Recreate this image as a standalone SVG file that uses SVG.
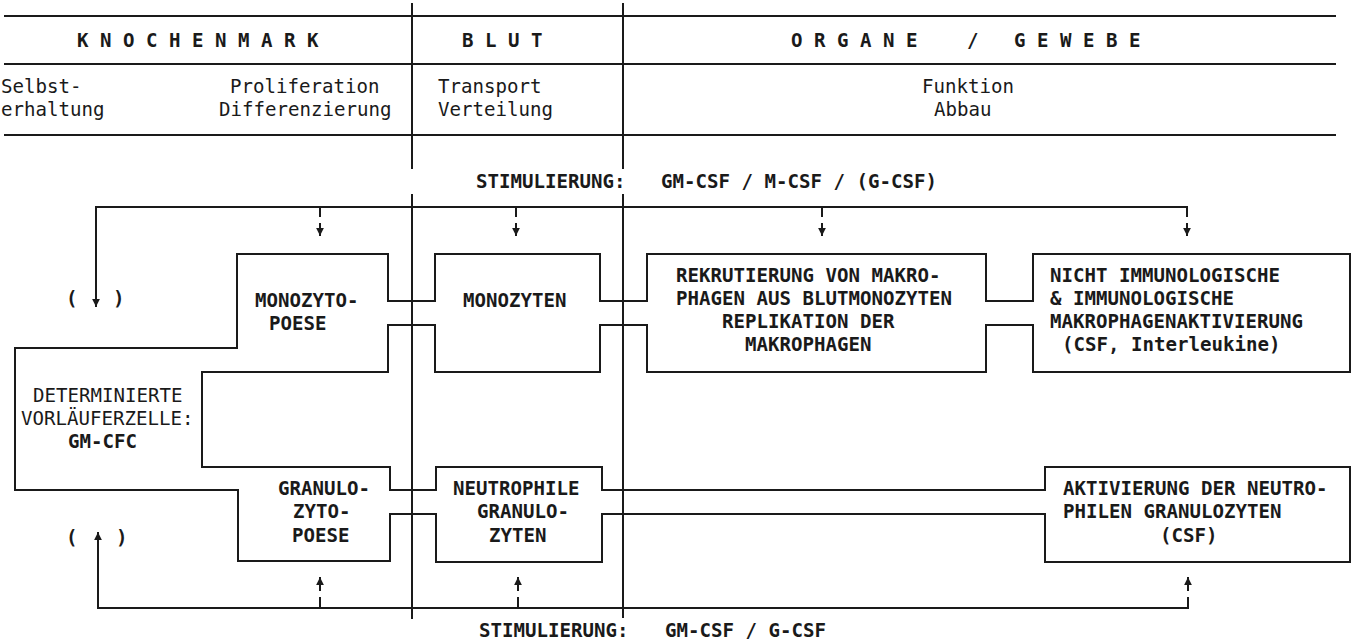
<svg xmlns="http://www.w3.org/2000/svg" width="1355" height="642" viewBox="0 0 1355 642">
<style>
  .ln { fill: none; stroke: #1a1a1a; stroke-width: 2; stroke-linecap: square; }
  .t { font-family: "DejaVu Sans Mono", "Liberation Mono", monospace; font-size: 19.1px; fill: #1a1a1a; }
  .b { font-weight: bold; }
</style>
<defs>
  <marker id="ah" viewBox="0 0 10 10" refX="9" refY="5" markerWidth="8" markerHeight="9" markerUnits="userSpaceOnUse" orient="auto">
    <path d="M0,0 L10,5 L0,10 z" fill="#1a1a1a"/>
  </marker>
</defs>
<rect width="1355" height="642" fill="#ffffff"/>

<g id="header">
  <path class="ln" d="M5,16 H1335 M5,64 H1335 M5,135 H1335"/>
  <text class="t b" x="77" y="47">K N O C H E N M A R K</text>
  <text class="t b" x="462" y="47">B L U T</text>
  <text class="t b" y="47"><tspan x="791">O R G A N E</tspan><tspan x="967">/</tspan><tspan x="1014">G E W E B E</tspan></text>
  <text class="t" x="1" y="93">Selbst-</text>
  <text class="t" x="1" y="116">erhaltung</text>
  <text class="t" x="230" y="93">Proliferation</text>
  <text class="t" x="219" y="116">Differenzierung</text>
  <text class="t" x="438" y="93">Transport</text>
  <text class="t" x="438" y="116">Verteilung</text>
  <text class="t" x="922" y="93">Funktion</text>
  <text class="t" x="934" y="116">Abbau</text>
</g>

<g id="dividers">
  <path class="ln" d="M412,4 V168 M412,195 V618 M623,4 V168 M623,195 V617"/>
</g>

<g id="stim-top">
  <text class="t b" y="188"><tspan x="476">STIMULIERUNG:</tspan><tspan x="661">GM-CSF / M-CSF / (G-CSF)</tspan></text>
  <text class="t b" y="305"><tspan x="66">(</tspan><tspan x="113">)</tspan></text>
</g>

<g id="stim-bottom">
  <text class="t b" y="637"><tspan x="479">STIMULIERUNG:</tspan><tspan x="665">GM-CSF / G-CSF</tspan></text>
  <text class="t b" y="544"><tspan x="66">(</tspan><tspan x="116">)</tspan></text>
</g>

<g id="determinierte">
  <path class="ln" d="M237,348 H15 V490 H238 M202,372 V467"/>
  <text class="t" x="33" y="402">DETERMINIERTE</text>
  <text class="t" x="21" y="425">VORLÄUFERZELLE:</text>
  <text class="t b" x="68" y="448">GM-CFC</text>
</g>

<g id="monozytopoese">
  <path class="ln" d="M237,348 V254 H388 V301 M388,325 V372 H202"/>
  <text class="t b" x="255" y="307">MONOZYTO-</text>
  <text class="t b" x="269" y="330">POESE</text>
</g>

<g id="granulozytopoese">
  <path class="ln" d="M202,467 H390 V490 M390,514 V561 H238 V490"/>
  <text class="t b" x="278" y="495">GRANULO-</text>
  <text class="t b" x="293" y="518">ZYTO-</text>
  <text class="t b" x="292" y="542">POESE</text>
</g>

<g id="monozyten">
  <path class="ln" d="M435,301 V254 H600 V301 M600,325 V372 H435 V325"/>
  <text class="t b" x="463" y="307">MONOZYTEN</text>
</g>

<g id="rekrutierung">
  <path class="ln" d="M647,301 V254 H986 V301 M986,325 V372 H647 V325"/>
  <text class="t b" x="676" y="282">REKRUTIERUNG VON MAKRO-</text>
  <text class="t b" x="676" y="305">PHAGEN AUS BLUTMONOZYTEN</text>
  <text class="t b" x="722" y="328">REPLIKATION DER</text>
  <text class="t b" x="745" y="351">MAKROPHAGEN</text>
</g>

<g id="makrophagenaktivierung">
  <path class="ln" d="M1033,301 V254 H1350 V372 H1033 V325"/>
  <text class="t b" x="1050" y="282">NICHT IMMUNOLOGISCHE</text>
  <text class="t b" x="1050" y="305">&amp; IMMUNOLOGISCHE</text>
  <text class="t b" x="1050" y="328">MAKROPHAGENAKTIVIERUNG</text>
  <text class="t b" x="1062" y="351">(CSF, Interleukine)</text>
</g>

<g id="neutrophile">
  <path class="ln" d="M436,490 V467 H602 V490 M602,514 V562 H436 V514"/>
  <text class="t b" x="453" y="495">NEUTROPHILE</text>
  <text class="t b" x="477" y="518">GRANULO-</text>
  <text class="t b" x="489" y="542">ZYTEN</text>
</g>

<g id="neutrophilenaktivierung">
  <path class="ln" d="M1045,490 V467 H1350 V562 H1045 V514"/>
  <text class="t b" x="1063" y="495">AKTIVIERUNG DER NEUTRO-</text>
  <text class="t b" x="1063" y="518">PHILEN GRANULOZYTEN</text>
  <text class="t b" x="1160" y="542">(CSF)</text>
</g>

<g id="connectors">
  <path class="ln" d="M388,301 H435 M388,325 H435"/>
  <path class="ln" d="M600,301 H647 M600,325 H647"/>
  <path class="ln" d="M986,301 H1033 M986,325 H1033"/>
  <path class="ln" d="M390,490 H436 M390,514 H436"/>
  <path class="ln" d="M602,490 H1045 M602,514 H1045"/>
  <path class="ln" d="M96,304 V207 H1187 V216"/>
  <path class="ln" d="M96,296 V306" marker-end="url(#ah)"/>
  <path class="ln" d="M320,207 V216 M516,207 V216 M822,207 V216"/>
  <path class="ln" d="M320,224 V235" marker-end="url(#ah)"/>
  <path class="ln" d="M516,224 V235" marker-end="url(#ah)"/>
  <path class="ln" d="M822,224 V235" marker-end="url(#ah)"/>
  <path class="ln" d="M1187,224 V235" marker-end="url(#ah)"/>
  <path class="ln" d="M98,540 V608 H1188 V598"/>
  <path class="ln" d="M98,545 V533" marker-end="url(#ah)"/>
  <path class="ln" d="M320,608 V598 M518,608 V598"/>
  <path class="ln" d="M320,590 V578" marker-end="url(#ah)"/>
  <path class="ln" d="M518,590 V578" marker-end="url(#ah)"/>
  <path class="ln" d="M1188,590 V578" marker-end="url(#ah)"/>
</g>
</svg>
